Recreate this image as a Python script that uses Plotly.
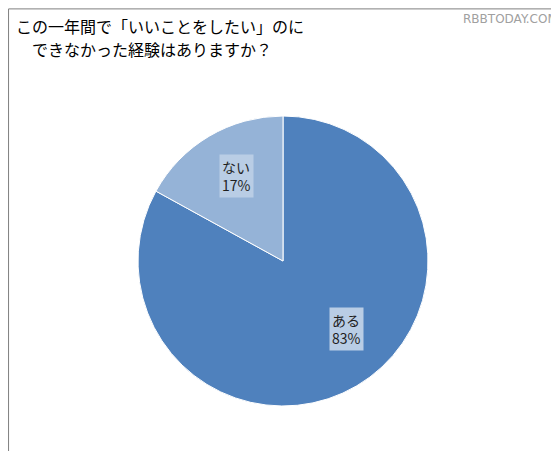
import plotly.graph_objects as go

labels = ["ある", "ない"]
values = [83, 17]
colors = ["#4f81bd", "#95b3d7"]
title_lines = ["この一年間で「いいことをしたい」のに", "できなかった経験はありますか？"]

fig = go.Figure(go.Pie(
    labels=labels, values=values, sort=False, direction="clockwise", rotation=0,
    marker=dict(colors=colors, line=dict(color="white", width=1)),
    textinfo="none", showlegend=False, hoverinfo="label+percent",
    domain=dict(x=[130/559, 420/559], y=[1-398/451, 1-108/451]),
))

# label boxes
pos = {"ある": (0.606, 0.24), "ない": (0.408, 0.627)}
for lab, val in zip(labels, values):
    x, y = pos[lab]
    fig.add_annotation(x=x, y=y, xref="paper", yref="paper", showarrow=False,
                       text=f"{lab}<br>{val}%", align="left", bgcolor="#b9cde5",
                       font=dict(size=14, color="#1f1f1f", family="Noto Sans CJK JP"),
                       borderpad=2)

# title, one annotation per line
for i, (line, x0) in enumerate(zip(title_lines, [6, 22])):
    fig.add_annotation(x=x0/559, y=1-(4 + i*23)/451, xref="paper", yref="paper",
                       showarrow=False, xanchor="left", yanchor="top", text=line,
                       font=dict(size=16, color="black", family="Noto Sans CJK JP"))
fig.add_annotation(x=552/559, y=1-2/451, xref="paper", yref="paper", showarrow=False,
                   xanchor="right", yanchor="top", text="RBBTODAY.COM",
                   font=dict(size=12, color="#a0a0a0", family="DejaVu Sans"))

fig.add_shape(type="rect", xref="paper", yref="paper", x0=0.001, y0=0.002, x1=0.998, y1=0.998,
              line=dict(color="#7f7f7f", width=1))
fig.update_layout(width=559, height=451, margin=dict(l=0, r=0, t=0, b=0),
                  paper_bgcolor="white", plot_bgcolor="white")
fig.write_html("out.html")
